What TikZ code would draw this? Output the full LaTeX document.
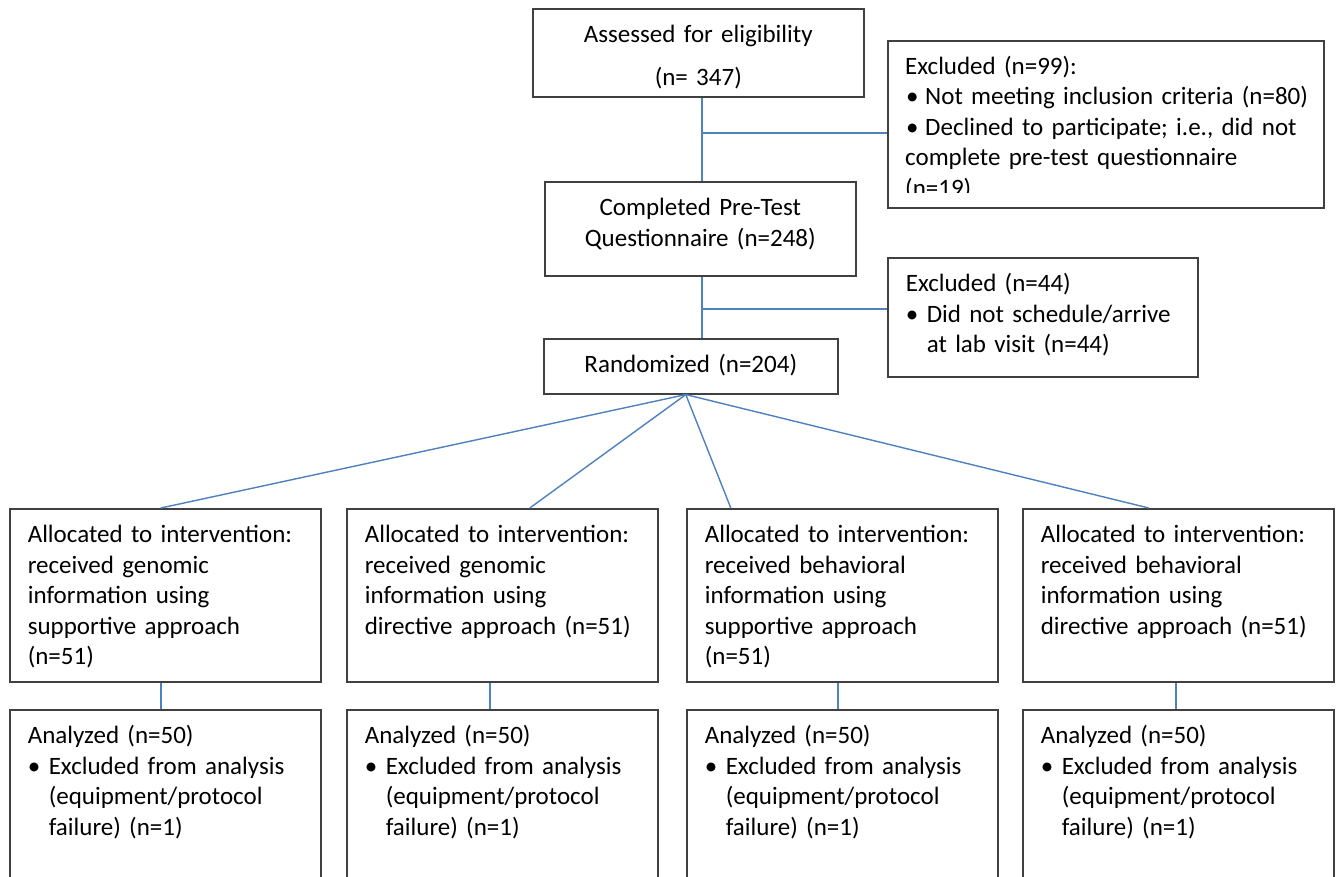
\documentclass[tikz,border=0pt]{standalone}
\usepackage{fontspec}
\setmainfont{Carlito}
\definecolor{linkblue}{RGB}{79,129,189}
\definecolor{boxgray}{RGB}{64,64,64}
\newcommand{\boxfont}{\fontsize{25}{30.5}\selectfont}
\newcommand{\bul}[1]{\makebox[21pt][l]{\textbullet}\parbox[t]{250pt}{#1}}

\tikzset{
  flowbox/.style={draw=boxgray, line width=1.6pt, fill=white, anchor=north west,
    inner xsep=18pt, inner ysep=16pt, text height=18pt, font=\boxfont},
  centerbox/.style={flowbox, align=center},
  listbox/.style={flowbox, align=left},
  link/.style={draw=linkblue, line width=1.4pt},
}

\begin{document}
\begin{tikzpicture}[x=1pt,y=-1pt]
\fill[white] (0,0) rectangle (1340,877);
\useasboundingbox (0,0) rectangle (1340,877);

% main column
\node[centerbox, text width=295pt, text depth=38pt] (assess) at (532,8)
  {Assessed for eligibility\\[12.5pt](n= 347)};
\node[centerbox, text width=275pt, text depth=44pt] (pretest) at (544,181)
  {Completed Pre-Test\\Questionnaire (n=248)};
\node[centerbox, text width=258pt, text depth=5pt] (rand) at (543,338)
  {Randomized (n=204)};

% exclusions
\node[flowbox, inner sep=0pt, minimum width=436pt, minimum height=167pt] (excl1) at (887,40) {};
\begin{scope}
  \clip (excl1.north west) rectangle ([yshift=16pt]excl1.south east);
  \node[anchor=north west, inner sep=0pt, text width=425pt, align=left, text height=18pt,
    font=\boxfont] (excl1txt) at (905,56)
    {Excluded (n=99):\\
     \makebox[20pt][l]{\hspace{1pt}\textbullet}Not meeting inclusion criteria (n=80)\\
     \makebox[20pt][l]{\hspace{1pt}\textbullet}Declined to participate; i.e., did not\\
     complete pre-test questionnaire\\
     (n=19)};
\end{scope}
\node[listbox, text width=274pt, text depth=69pt] (excl2) at (887,257)
  {Excluded (n=44)\\ \bul{Did not schedule/arrive\\at lab visit (n=44)}};

% allocation
\node[listbox, text width=275pt, text depth=123pt] (a1) at (9,508)
  {Allocated to intervention:\\received genomic\\information using\\supportive approach\\(n=51)};
\node[listbox, text width=275pt, text depth=123pt] (a2) at (346,508)
  {Allocated to intervention:\\received genomic\\information using\\directive approach (n=51)};
\node[listbox, text width=275pt, text depth=123pt] (a3) at (686,508)
  {Allocated to intervention:\\received behavioral\\information using\\supportive approach\\(n=51)};
\node[listbox, text width=275pt, text depth=123pt] (a4) at (1022,508)
  {Allocated to intervention:\\received behavioral\\information using\\directive approach (n=51)};

% analysis
\foreach \i/\x in {1/9, 2/346, 3/686, 4/1022}
  \node[listbox, text width=275pt, text depth=150pt] (b\i) at (\x,709)
    {Analyzed (n=50)\\ \bul{Excluded from analysis\\(equipment/protocol\\failure) (n=1)}};

% connectors
\coordinate (j1) at (702,133);
\coordinate (j2) at (702,309);
\draw[link] (assess.south -| j1) -- (pretest.north -| j1);
\draw[link] (j1) -- (j1 -| excl1.west);
\draw[link] (pretest.south -| j2) -- (rand.north -| j2);
\draw[link] (j2) -- (j2 -| excl2.west);
\foreach \i/\tx/\bx in {1/-4.5/-4.5, 2/27.5/-12.5, 3/-111.5/-4.5, 4/-29.5/-2.5} {
  \draw[link] ([xshift=-5pt]rand.south) -- ([xshift=\tx pt]a\i.north);
  \draw[link] ([xshift=\bx pt]a\i.south) -- ([xshift=\bx pt]b\i.north);
}
\end{tikzpicture}
\end{document}
